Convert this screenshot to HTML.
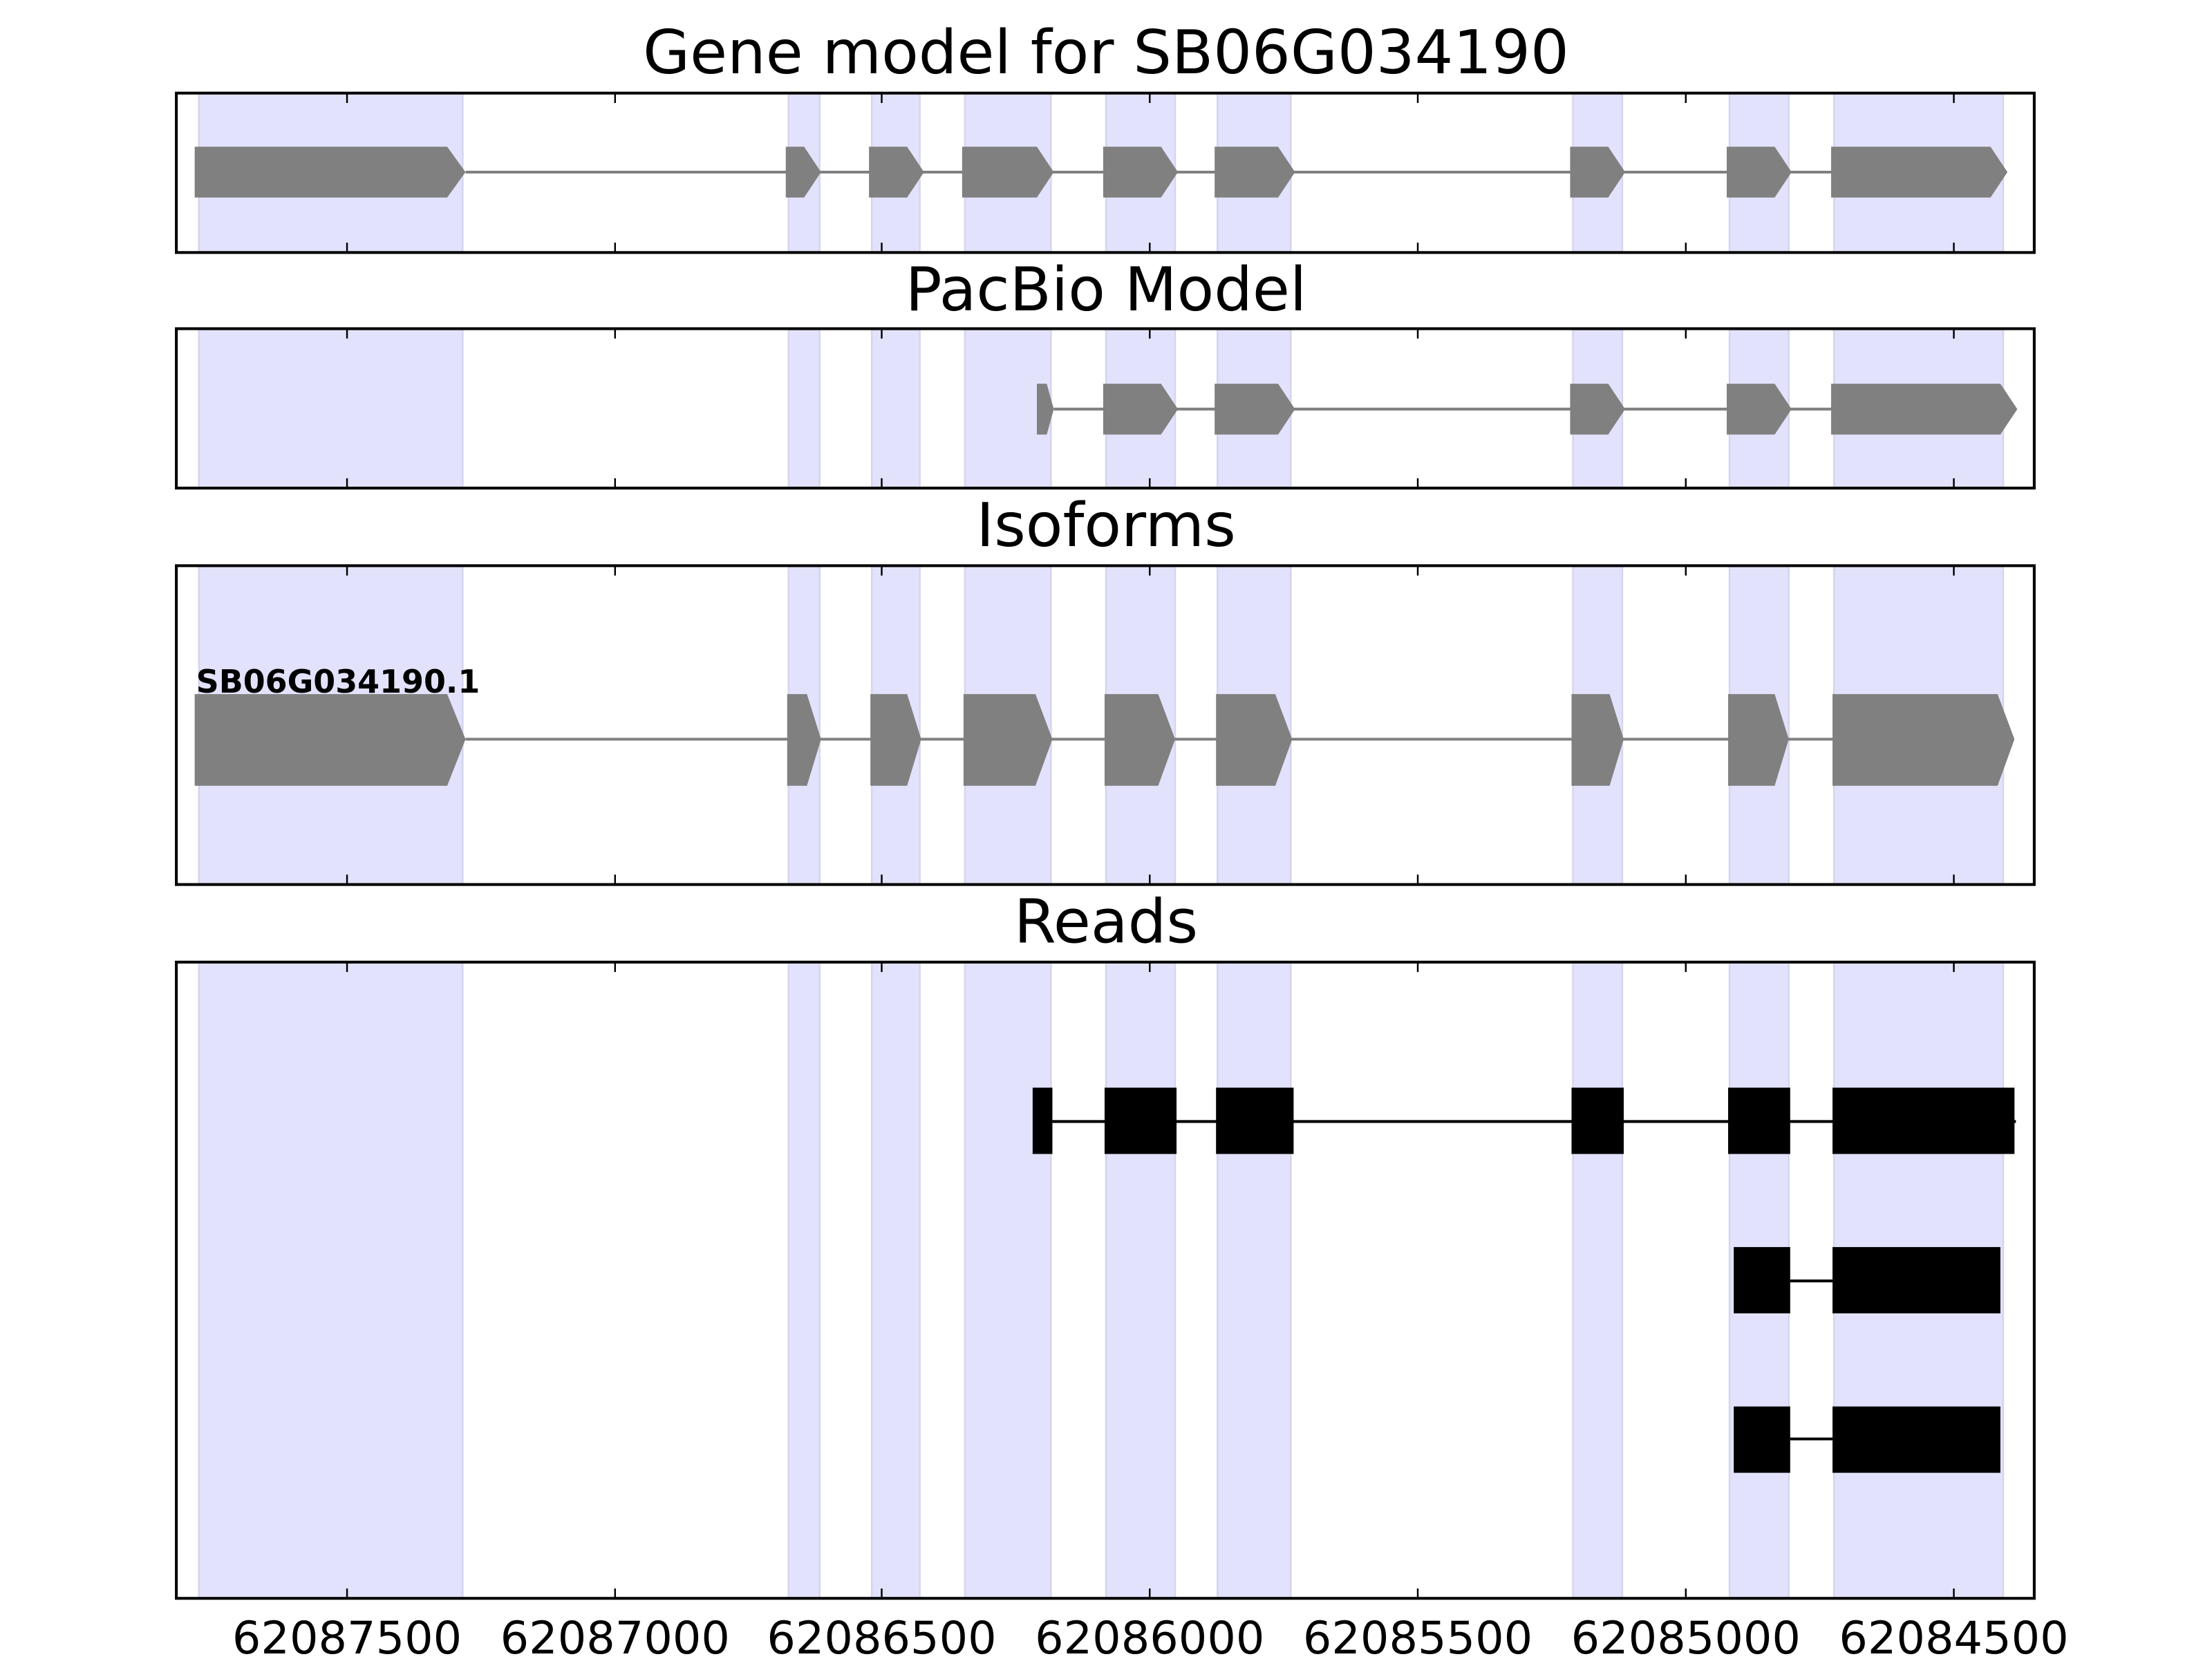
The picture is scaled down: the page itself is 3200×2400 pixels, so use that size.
<!DOCTYPE html>
<html><head><meta charset="utf-8"><style>
html,body{margin:0;padding:0;background:#fff;}
svg{display:block;}
text{font-family:"DejaVu Sans","Liberation Sans",sans-serif;}
</style></head><body>
<svg width="3200" height="2400" viewBox="0 0 1568 1176" xmlns="http://www.w3.org/2000/svg">
<defs>
<g id="shade">
<rect x="141" y="0" width="187" height="1200"/>
<rect x="559" y="0" width="22" height="1200"/>
<rect x="618" y="0" width="34" height="1200"/>
<rect x="684" y="0" width="61" height="1200"/>
<rect x="784" y="0" width="49" height="1200"/>
<rect x="863" y="0" width="52" height="1200"/>
<rect x="1115" y="0" width="35" height="1200"/>
<rect x="1226" y="0" width="42" height="1200"/>
<rect x="1300" y="0" width="120" height="1200"/>
</g>
<clipPath id="c1"><rect x="125" y="66" width="1317" height="113"/></clipPath>
<clipPath id="c2"><rect x="125" y="233" width="1317" height="113"/></clipPath>
<clipPath id="c3"><rect x="125" y="401" width="1317" height="226"/></clipPath>
<clipPath id="c4"><rect x="125" y="682" width="1317" height="451"/></clipPath>
</defs>

<g fill="#e2e2fc" stroke="#d4d4ee" stroke-width="1.2">
<use href="#shade" clip-path="url(#c1)"/>
<use href="#shade" clip-path="url(#c2)"/>
<use href="#shade" clip-path="url(#c3)"/>
<use href="#shade" clip-path="url(#c4)"/>
</g>

<g fill="#808080">
<line x1="330" y1="122" x2="1420" y2="122" stroke="#808080" stroke-width="2"/>
<polygon points="138,104 317,104 330,122 317,140 138,140"/>
<polygon points="557,104 570,104 582,122 570,140 557,140"/>
<polygon points="616,104 643,104 655,122 643,140 616,140"/>
<polygon points="682,104 735,104 747,122 735,140 682,140"/>
<polygon points="782,104 823,104 835,122 823,140 782,140"/>
<polygon points="861,104 906,104 918,122 906,140 861,140"/>
<polygon points="1113,104 1140,104 1152,122 1140,140 1113,140"/>
<polygon points="1224,104 1258,104 1270,122 1258,140 1224,140"/>
<polygon points="1298,104 1411,104 1423,122 1411,140 1298,140"/>
</g>

<g fill="#808080">
<line x1="747" y1="290" x2="1420" y2="290" stroke="#808080" stroke-width="2"/>
<polygon points="735,272 742,272 747,290 742,308 735,308"/>
<polygon points="782,272 823,272 835,290 823,308 782,308"/>
<polygon points="861,272 906,272 918,290 906,308 861,308"/>
<polygon points="1113,272 1140,272 1152,290 1140,308 1113,308"/>
<polygon points="1224,272 1258,272 1270,290 1258,308 1224,308"/>
<polygon points="1298,272 1418,272 1430,290 1418,308 1298,308"/>
</g>

<text x="139" y="491" font-size="22.5" font-weight="bold">SB06G034190.1</text>
<g fill="#808080">
<line x1="330" y1="524" x2="1420" y2="524" stroke="#808080" stroke-width="2"/>
<polygon points="138,492 317,492 330,524 317,557 138,557"/>
<polygon points="558,492 572,492 582,524 572,557 558,557"/>
<polygon points="617,492 643,492 653,524 643,557 617,557"/>
<polygon points="683,492 734,492 746,524 734,557 683,557"/>
<polygon points="783,492 821,492 833,524 821,557 783,557"/>
<polygon points="862,492 904,492 916,524 904,557 862,557"/>
<polygon points="1114,492 1141,492 1151,524 1141,557 1114,557"/>
<polygon points="1225,492 1258,492 1268,524 1258,557 1225,557"/>
<polygon points="1299,492 1416,492 1428,524 1416,557 1299,557"/>
</g>

<g fill="#000">
<line x1="746" y1="795" x2="1429" y2="795" stroke="#000" stroke-width="2"/>
<rect x="732" y="771" width="14" height="47"/>
<rect x="783" y="771" width="51" height="47"/>
<rect x="862" y="771" width="55" height="47"/>
<rect x="1114" y="771" width="37" height="47"/>
<rect x="1225" y="771" width="44" height="47"/>
<rect x="1299" y="771" width="129" height="47"/>
<line x1="1269" y1="908" x2="1299" y2="908" stroke="#000" stroke-width="2"/>
<rect x="1229" y="884" width="40" height="47"/>
<rect x="1299" y="884" width="119" height="47"/>
<line x1="1269" y1="1020" x2="1299" y2="1020" stroke="#000" stroke-width="2"/>
<rect x="1229" y="997" width="40" height="47"/>
<rect x="1299" y="997" width="119" height="47"/>
</g>

<g fill="none" stroke="#000" stroke-width="2">
<rect x="125" y="66" width="1317" height="113"/>
<rect x="125" y="233" width="1317" height="113"/>
<rect x="125" y="401" width="1317" height="226"/>
<rect x="125" y="682" width="1317" height="451"/>
</g>
<g stroke="#000" stroke-width="1.2">
<path d="M246,66v7M436,66v7M625,66v7M815,66v7M1005,66v7M1195,66v7M1385,66v7
M246,179v-7M436,179v-7M625,179v-7M815,179v-7M1005,179v-7M1195,179v-7M1385,179v-7
M246,233v7M436,233v7M625,233v7M815,233v7M1005,233v7M1195,233v7M1385,233v7
M246,346v-7M436,346v-7M625,346v-7M815,346v-7M1005,346v-7M1195,346v-7M1385,346v-7
M246,401v7M436,401v7M625,401v7M815,401v7M1005,401v7M1195,401v7M1385,401v7
M246,627v-7M436,627v-7M625,627v-7M815,627v-7M1005,627v-7M1195,627v-7M1385,627v-7
M246,682v7M436,682v7M625,682v7M815,682v7M1005,682v7M1195,682v7M1385,682v7
M246,1133v-7M436,1133v-7M625,1133v-7M815,1133v-7M1005,1133v-7M1195,1133v-7M1385,1133v-7"/>
</g>

<g font-size="43" text-anchor="middle" fill="#000">
<text x="784" y="52">Gene model for SB06G034190</text>
<text x="784" y="220">PacBio Model</text>
<text x="784" y="387">Isoforms</text>
<text x="784" y="668">Reads</text>
</g>
<g font-size="32" text-anchor="middle" fill="#000">
<text x="246" y="1172">62087500</text>
<text x="436" y="1172">62087000</text>
<text x="625" y="1172">62086500</text>
<text x="815" y="1172">62086000</text>
<text x="1005" y="1172">62085500</text>
<text x="1195" y="1172">62085000</text>
<text x="1385" y="1172">62084500</text>
</g>
</svg>
</body></html>
